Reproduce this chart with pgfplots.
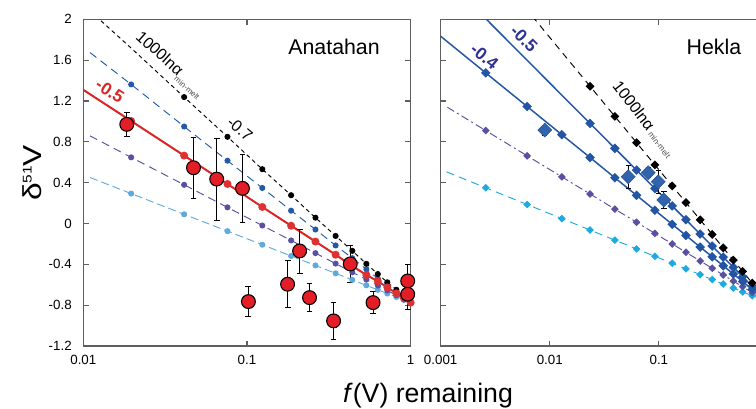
\documentclass[border=0pt]{standalone}
\usepackage{fontspec}
\setmainfont{Liberation Sans}
\usepackage{pgfplots}
\pgfplotsset{compat=1.18}
\definecolor{axgray}{RGB}{95,95,95}
\definecolor{lblue}{RGB}{94,170,222}
\definecolor{purp}{RGB}{88,80,160}
\definecolor{dblue}{RGB}{33,90,168}
\definecolor{redl}{RGB}{218,37,38}
\definecolor{redd}{RGB}{222,50,50}
\definecolor{redbig}{RGB}{228,30,38}
\definecolor{cyanr}{RGB}{30,170,225}
\definecolor{bluer}{RGB}{35,85,165}
\definecolor{diam}{RGB}{48,100,172}
\definecolor{navy}{RGB}{46,49,146}
\begin{document}
\begin{tikzpicture}
% ---------------- left panel: Anatahan
\begin{axis}[scale only axis, width=245.5pt, height=245pt, xmode=log,
  ymin=-1.2, ymax=2,
  ytick={-1.2,-0.8,-0.4,0,0.4,0.8,1.2,1.6,2},
  tick align=inside, major tick length=4pt, xminorticks=false, yminorticks=false,
  axis line style={axgray, line width=0.8pt},
  major tick style={axgray, line width=0.8pt},
  tick label style={font=\fontsize{10}{12}\selectfont},
  /pgf/number format/assume math mode=true,
  xticklabel style={yshift=-3.4pt},
  yticklabel style={xshift=-5.2pt},
  anchor=south west, at={(62.5pt,47.25pt)},
  xmin=0.01, xmax=1, xtick={0.01,0.1,1}, xticklabels={0.01,0.1,1},
  yticklabels={-1.2,-0.8,-0.4,0,0.4,0.8,1.2,1.6,2}]
\addplot[lblue, line width=0.7pt, dash pattern=on 6pt off 3pt, mark=*, mark phase=2, mark size=1.9pt, mark options={solid, fill=lblue, draw=lblue}] coordinates {
(0.011,0.450) (0.0196,0.293) (0.0413,0.090) (0.076,-0.075) (0.124,-0.208) (0.186,-0.318) (0.262,-0.411) (0.348,-0.488) (0.44,-0.552) (0.536,-0.606) (0.63,-0.650) (0.72,-0.686) (0.818,-0.720) (0.91,-0.750) (1,-0.775)};
\addplot[purp, line width=0.7pt, dash pattern=on 6pt off 4pt, mark=*, mark phase=2, mark size=1.9pt, mark options={solid, fill=purp, draw=purp}] coordinates {
(0.011,0.858) (0.0196,0.648) (0.0413,0.379) (0.076,0.158) (0.124,-0.020) (0.186,-0.166) (0.262,-0.290) (0.348,-0.393) (0.44,-0.478) (0.536,-0.549) (0.63,-0.608) (0.72,-0.656) (0.818,-0.702) (0.91,-0.741) (1,-0.775)};
\addplot[dblue, line width=0.7pt, dash pattern=on 6pt off 4pt, mark=*, mark phase=2, mark size=1.9pt, mark options={solid, fill=dblue, draw=dblue}] coordinates {
(0.011,1.674) (0.0196,1.362) (0.0413,0.950) (0.076,0.615) (0.124,0.348) (0.186,0.126) (0.262,-0.059) (0.348,-0.215) (0.44,-0.340) (0.536,-0.448) (0.63,-0.539) (0.72,-0.600) (0.818,-0.666) (0.91,-0.724) (1,-0.775)};
\addplot[black, line width=0.7pt, dash pattern=on 3pt off 2.5pt, mark=*, mark phase=2, mark size=1.9pt, mark options={solid, fill=black, draw=black}] coordinates {
(0.011,2.082) (0.0196,1.718) (0.0413,1.238) (0.076,0.849) (0.124,0.532) (0.186,0.277) (0.262,0.057) (0.348,-0.122) (0.44,-0.268) (0.536,-0.395) (0.63,-0.495) (0.72,-0.576) (0.818,-0.649) (0.91,-0.716) (1,-0.775)};
\addplot[redl, line width=1.5pt, mark=*, mark phase=2, mark size=2.2pt, mark options={solid, fill=redd, draw=redd}] coordinates {
(0.01,1.309) (0.0196,1.004) (0.0413,0.665) (0.076,0.387) (0.124,0.162) (0.186,-0.022) (0.262,-0.177) (0.348,-0.306) (0.44,-0.417) (0.536,-0.504) (0.63,-0.566) (0.72,-0.626) (0.818,-0.684) (0.91,-0.733) (1,-0.775)};
\addplot[only marks, mark=*, mark size=5.2pt, mark options={fill=redbig, draw=black, line width=0.8pt},
  error bars/.cd, y dir=both, y explicit, error bar style={black, line width=0.6pt}, error mark options={rotate=90, black, mark size=2.2pt, line width=0.6pt}] coordinates {
(0.01843,0.971) +- (0,0.114)
(0.0471,0.546) +- (0,0.30)
(0.0653,0.435) +- (0,0.40)
(0.0938,0.344) +- (0,0.33)
(0.102,-0.765) +- (0,0.147)
(0.177,-0.595) +- (0,0.23)
(0.2096,-0.269) +- (0,0.215)
(0.241,-0.726) +- (0,0.14)
(0.338,-0.954) +- (0,0.18)
(0.4276,-0.396) +- (0,0.18)
(0.589,-0.775) +- (0,0.11)
(0.959,-0.563) +- (0,0.16)
(0.959,-0.693) +- (0,0.15)};
\end{axis}
% ---------------- right panel: Hekla
\begin{axis}[scale only axis, width=245.5pt, height=245pt, xmode=log,
  ymin=-1.2, ymax=2,
  ytick={-1.2,-0.8,-0.4,0,0.4,0.8,1.2,1.6,2},
  tick align=inside, major tick length=4pt, xminorticks=false, yminorticks=false,
  axis line style={axgray, line width=0.8pt},
  major tick style={axgray, line width=0.8pt},
  tick label style={font=\fontsize{10}{12}\selectfont},
  /pgf/number format/assume math mode=true,
  xticklabel style={yshift=-3.4pt},
  anchor=south west, at={(330.5pt,47.25pt)},
  xmin=0.001, xmax=1, xtick={0.001,0.01,0.1}, xticklabels={0.001,0.01,0.1},
  yticklabels={}]
\addplot[cyanr, line width=0.7pt, dash pattern=on 6pt off 4pt, mark=square*, mark phase=2, mark size=1.7pt, mark options={solid, rotate=45, fill=cyanr, draw=cyanr}] coordinates {
(0.00113,0.506) (0.00259,0.350) (0.0062,0.186) (0.0129,0.048) (0.0234,-0.064) (0.0395,-0.163) (0.0624,-0.249) (0.0919,-0.321) (0.1325,-0.390) (0.177,-0.444) (0.239,-0.501) (0.308,-0.549) (0.389,-0.593) (0.481,-0.632) (0.586,-0.670) (0.718,-0.708) (0.85,-0.739) (1,-0.77)};
\addplot[purp, line width=0.7pt, dash pattern=on 6pt off 2.5pt on 1.5pt off 2.5pt, mark=square*, mark phase=2, mark size=1.7pt, mark options={solid, rotate=45, fill=purp, draw=purp}] coordinates {
(0.00115,1.139) (0.00259,0.910) (0.0062,0.663) (0.0129,0.457) (0.0234,0.289) (0.0395,0.141) (0.0624,0.012) (0.0919,-0.097) (0.1325,-0.200) (0.177,-0.282) (0.239,-0.367) (0.308,-0.438) (0.389,-0.504) (0.481,-0.564) (0.586,-0.619) (0.718,-0.677) (0.85,-0.724) (1,-0.77)};
\addplot[bluer, line width=1.1pt, mark=square*, mark phase=2, mark size=2pt, mark options={solid, rotate=45, fill=bluer, draw=bluer}] coordinates {
(0.001,1.834) (0.00259,1.475) (0.0062,1.146) (0.0129,0.870) (0.0234,0.646) (0.0395,0.448) (0.0624,0.276) (0.0919,0.130) (0.1325,-0.008) (0.177,-0.117) (0.239,-0.231) (0.308,-0.326) (0.389,-0.414) (0.481,-0.494) (0.586,-0.569) (0.718,-0.645) (0.85,-0.709) (1,-0.77)};
\addplot[bluer, line width=1.1pt, mark=square*, mark phase=3, mark size=2pt, mark options={solid, rotate=45, fill=bluer, draw=bluer}] coordinates {
(0.001,2.449) (0.00259,2.006) (0.0062,1.599) (0.0129,1.257) (0.0234,0.980) (0.0395,0.736) (0.0624,0.523) (0.0919,0.342) (0.1325,0.172) (0.177,0.037) (0.239,-0.103) (0.308,-0.221) (0.389,-0.330) (0.481,-0.429) (0.586,-0.521) (0.718,-0.616) (0.85,-0.694) (1,-0.77)};
\addplot[black, line width=0.7pt, dash pattern=on 5pt off 4pt, mark=square*, mark phase=2, mark size=2pt, mark options={solid, rotate=45, fill=black, draw=black}] coordinates {
(0.001,3.119) (0.0129,1.679) (0.0234,1.344) (0.0395,1.049) (0.0624,0.792) (0.0919,0.574) (0.1325,0.368) (0.177,0.205) (0.239,0.036) (0.308,-0.107) (0.389,-0.239) (0.481,-0.358) (0.586,-0.469) (0.718,-0.584) (0.85,-0.678) (1,-0.77)};
\addplot[only marks, mark=square*, mark size=3.7pt, mark options={rotate=45, fill=diam, draw=diam!85!black, line width=0.4pt},
  error bars/.cd, y dir=both, y explicit, error bar style={black, line width=0.6pt}, error mark options={rotate=90, black, mark size=2pt, line width=0.6pt}] coordinates {
(0.009,0.915) +- (0,0.05)
(0.0523,0.458) +- (0,0.115)
(0.0798,0.497) +- (0,0.05)
(0.0986,0.409) +- (0,0.11)
(0.111,0.23) +- (0,0.08)
(0.86,-0.66) +- (0,0.05)};
\end{axis}
% ---------------- texts
\node[anchor=base east, inner sep=0pt, font=\fontsize{16}{18}\selectfont] at (285pt,265.5pt) {Anatahan};
\node[anchor=base east, inner sep=0pt, font=\fontsize{16}{18}\selectfont] at (556.1pt,265.5pt) {Hekla};
\node[anchor=base, font=\fontsize{20}{24}\selectfont] at (321pt,4.5pt) {\textit{f}(V) remaining};
\node[rotate=90, anchor=base, inner sep=0pt] at (31.3pt,177pt) {\scalebox{1.22}[1]{\fontsize{19.5}{21}\selectfont δ\raisebox{7.5pt}{\fontsize{9.5}{10}\selectfont 51}V}};
\node[rotate=-33, text=redl, font=\fontsize{13}{15}\selectfont\bfseries] at (82.5pt,238.5pt) {-0.5};
\node[rotate=-40, font=\fontsize{12}{14}\selectfont] at (180pt,210pt) {-0.7};
\node[rotate=-42, font=\fontsize{12}{14}\selectfont] at (120pt,267pt) {1000lnα};
\node[rotate=-42, text=black!70, font=\fontsize{6}{7}\selectfont] at (140.25pt,240.75pt) {min-melt};
\node[rotate=-52, font=\fontsize{12}{14}\selectfont] at (475.5pt,227.25pt) {1000lnα};
\node[rotate=-52, text=black!70, font=\fontsize{6}{7}\selectfont] at (494.6pt,198pt) {min-melt};
\node[rotate=-45, text=navy, font=\fontsize{13}{15}\selectfont\bfseries] at (393pt,277.5pt) {-0.5};
\node[rotate=-39, text=navy, font=\fontsize{13}{15}\selectfont\bfseries] at (363.4pt,264.2pt) {-0.4};
\pgfresetboundingbox
\path[use as bounding box] (0,0) rectangle (567pt,306.75pt);
\end{tikzpicture}
\end{document}
